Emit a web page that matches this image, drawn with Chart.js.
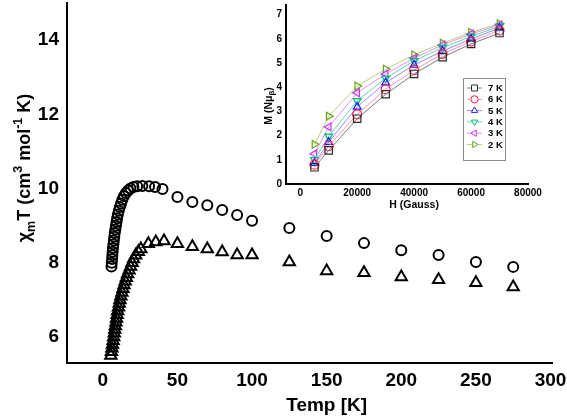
<!DOCTYPE html>
<html><head><meta charset="utf-8">
<script src="https://cdn.jsdelivr.net/npm/chart.js@4.4.1/dist/chart.umd.min.js"></script>
<style>
html,body{margin:0;padding:0;background:#fff;}
#wrap{position:relative;width:567px;height:417px;overflow:hidden;}
#main{position:absolute;left:0;top:-20px;}
#inset{position:absolute;left:258px;top:-20px;}
</style></head><body>
<div id="wrap"><canvas id="main" width="600" height="437" style="width:600px;height:437px"></canvas><canvas id="inset" width="300" height="235" style="width:300px;height:235px"></canvas></div>
<script>
// ---------- main chart data ----------
const circleT = [5.8,6.0,6.2,6.4,6.6,6.8,7.1,7.4,7.7,8.0,8.4,8.8,9.2,9.6,10.1,10.7,11.4,12.2,13.1,14.2,15.5,17.0,18.5,20.5,23,26.5,31,35,40,50,60,70,80,90,100,125,150,175,200,225,250,275];
const circleChiT = [7.90,8.00,8.10,8.20,8.30,8.40,8.50,8.60,8.70,8.80,8.90,9.00,9.10,9.20,9.30,9.40,9.50,9.60,9.70,9.80,9.88,9.95,10.00,10.04,10.06,10.07,10.06,10.04,9.99,9.77,9.64,9.55,9.42,9.29,9.13,8.94,8.72,8.53,8.34,8.21,8.02,7.89];
const triT = [5.4,5.75,6.1,6.5,6.9,7.3,7.7,8.0,8.4,8.8,9.2,9.6,10.0,10.5,11.0,11.5,12.1,12.8,13.5,14.2,15.0,15.8,16.6,17.6,18.6,19.6,20.6,22,23.8,25.5,30.5,35.5,41,50,60,70,80,90,100,125,150,175,200,225,250,275];
const triChiT = [5.5,5.6,5.7,5.8,5.9,6.0,6.1,6.2,6.3,6.4,6.5,6.6,6.7,6.8,6.9,7.0,7.1,7.2,7.3,7.4,7.5,7.6,7.7,7.8,7.9,8.0,8.1,8.2,8.3,8.37,8.51,8.56,8.59,8.51,8.43,8.37,8.29,8.21,8.21,8.02,7.78,7.73,7.62,7.54,7.46,7.35];
const xTicks = [0,50,100,150,200,250,300];
const yTicks = [6,8,10,12,14];
const xTitle = 'Temp [K]';
const yTitleParts = [['χ',''],['m','sub'],['T (cm',''],['3','sup'],[' mol',''],['-1','sup'],[' K)','']];

// ---------- inset data ----------
const fieldH = [5000,10000,20000,30000,40000,50000,60000,70000];
const seriesLabels = ['7 K','6 K','5 K','4 K','3 K','2 K'];
const m7K = [0.69,1.39,2.70,3.71,4.55,5.24,5.79,6.24];
const m6K = [0.80,1.57,2.88,3.92,4.71,5.38,5.89,6.35];
const m5K = [0.86,1.73,3.19,4.19,4.92,5.50,5.99,6.45];
const m4K = [1.00,1.97,3.44,4.37,5.09,5.64,6.10,6.52];
const m3K = [1.25,2.36,3.77,4.55,5.20,5.75,6.20,6.58];
const m2K = [1.64,2.80,4.05,4.75,5.34,5.82,6.27,6.63];
const hTicks = [0,20000,40000,60000,80000];
const mTicks = [0,1,2,3,4,5,6,7];
const hTitle = 'H (Gauss)';
const mTitleParts = [['M (Nμ',''],['β','sub'],[')','']];

const FAM = '"Liberation Sans", Arial, Helvetica, sans-serif';
const markerColors = ['#2a2a2a','#ff1a4a','#1a1aff','#00b87a','#cc33ee','#66a31a'];
const lineColors = ['#7a7a7a','#ff8fb0','#8c8cff','#5fd6a8','#e58cf5','#b3d47a'];
const styles = ['rect','circle','triangle','triangle','triangle','triangle'];
const rots = [0,0,0,180,270,90];

function drawRich(ctx, parts, size, small, cx, cy) {
  let w = 0;
  parts.forEach(p => { ctx.font = 'bold ' + (p[1] ? small : size) + 'px ' + FAM; w += ctx.measureText(p[0]).width; });
  let x = cx - w / 2;
  ctx.textAlign = 'left'; ctx.textBaseline = 'alphabetic';
  parts.forEach(p => {
    const sz = p[1] ? small : size;
    ctx.font = 'bold ' + sz + 'px ' + FAM;
    let dy = 0;
    if (p[1] === 'sup') dy = -size * 0.42;
    if (p[1] === 'sub') dy = size * 0.25;
    ctx.fillText(p[0], x, cy + dy);
    x += ctx.measureText(p[0]).width;
  });
}

const mainTitles = {
  id: 'mainTitles',
  afterDraw(chart) {
    const ctx = chart.ctx, xs = chart.scales.x, ca = chart.chartArea;
    ctx.save();
    ctx.fillStyle = '#000';
    ctx.font = 'bold 19px ' + FAM;
    ctx.textAlign = 'center'; ctx.textBaseline = 'alphabetic';
    const cx = (xs.getPixelForValue(xTicks[0]) + xs.getPixelForValue(xTicks[xTicks.length - 1])) / 2;
    ctx.fillText(xTitle, cx, ca.bottom + 48);
    ctx.translate(30, ca.top + 165); ctx.rotate(-Math.PI / 2);
    drawRich(ctx, yTitleParts, 18, 12.5, 0, 0);
    ctx.restore();
  }
};

function fixTicks(arr) { return s => { s.ticks = arr.map(v => ({ value: v })); }; }

new Chart(document.getElementById('main'), {
  type: 'scatter',
  data: { datasets: [
    { data: circleT.map((t, i) => ({ x: t, y: circleChiT[i] })), pointStyle: 'circle', pointRadius: 5, pointBorderWidth: 2, pointBorderColor: '#000', pointBackgroundColor: 'rgba(0,0,0,0)', showLine: false },
    { data: triT.map((t, i) => ({ x: t, y: triChiT[i] })), pointStyle: 'triangle', pointRadius: 6.5, pointBorderWidth: 2, pointBorderColor: '#000', pointBackgroundColor: 'rgba(0,0,0,0)', showLine: false }
  ] },
  options: {
    responsive: false, animation: false, events: [],
    layout: { padding: { top: 23, right: 48, left: 0, bottom: 0 } },
    plugins: { legend: { display: false }, tooltip: { enabled: false } },
    scales: {
      x: { type: 'linear', min: -24, max: 301, afterBuildTicks: fixTicks(xTicks), afterFit: s => { s.height = 54; },
        grid: { display: false, drawTicks: false }, border: { display: true, color: '#000', width: 2 },
        ticks: { color: '#000', padding: 6, maxRotation: 0, autoSkip: false, font: { family: FAM, size: 19, weight: 'bold' } } },
      y: { type: 'linear', min: 5.3, max: 15, afterBuildTicks: fixTicks(yTicks), afterFit: s => { s.width = 67; },
        grid: { display: false, drawTicks: false }, border: { display: true, color: '#000', width: 2 },
        ticks: { color: '#000', padding: 8, autoSkip: false, font: { family: FAM, size: 19, weight: 'bold' } } }
    }
  },
  plugins: [mainTitles]
});

function drawMarker(ctx, style, rot, r, x, y) {
  if (Chart.helpers && Chart.helpers.drawPoint) {
    Chart.helpers.drawPoint(ctx, { pointStyle: style, rotation: rot, radius: r, borderWidth: 1 }, x, y);
  }
}

const insetExtras = {
  id: 'insetExtras',
  afterDraw(chart) {
    const ctx = chart.ctx, ca = chart.chartArea, xs = chart.scales.x;
    ctx.save();
    ctx.fillStyle = '#000';
    ctx.font = 'bold 10.5px ' + FAM;
    ctx.textAlign = 'center'; ctx.textBaseline = 'alphabetic';
    const cx = (xs.getPixelForValue(hTicks[0]) + xs.getPixelForValue(hTicks[hTicks.length - 1])) / 2;
    ctx.fillText(hTitle, cx, ca.bottom + 24);
    ctx.save();
    ctx.translate(13.5, ca.top + 101); ctx.rotate(-Math.PI / 2);
    drawRich(ctx, mTitleParts, 10.5, 8, 0, 0);
    ctx.restore();
    // legend box
    const bx = ca.right - 65, by = ca.top + 73, bw = 42, bh = 82;
    ctx.fillStyle = '#fff'; ctx.fillRect(bx, by, bw, bh);
    ctx.strokeStyle = '#8a8a8a'; ctx.lineWidth = 1;
    ctx.strokeRect(bx + 0.5, by + 0.5, bw, bh);
    seriesLabels.forEach((lab, i) => {
      const yy = by + 10 + i * 11.3;
      ctx.strokeStyle = lineColors[i]; ctx.lineWidth = 1;
      ctx.beginPath(); ctx.moveTo(bx + 4, yy); ctx.lineTo(bx + 19, yy); ctx.stroke();
      ctx.strokeStyle = markerColors[i]; ctx.fillStyle = '#fff';
      drawMarker(ctx, styles[i], rots[i], styles[i] === 'rect' ? 4.2 : 3.6, bx + 11.5, yy);
      ctx.fillStyle = '#000';
      ctx.font = 'bold 9.5px ' + FAM; ctx.textAlign = 'left'; ctx.textBaseline = 'middle';
      ctx.fillText(lab, bx + 25, yy + 0.5);
    });
    ctx.restore();
  }
};

const mSeries = [m7K, m6K, m5K, m4K, m3K, m2K];
new Chart(document.getElementById('inset'), {
  type: 'line',
  data: { datasets: mSeries.map((arr, i) => ({
    label: seriesLabels[i],
    data: fieldH.map((h, j) => ({ x: h, y: arr[j] })),
    borderColor: lineColors[i], borderWidth: 1, tension: 0, fill: false,
    pointStyle: styles[i], pointRotation: rots[i], pointRadius: styles[i] === 'rect' ? 5.2 : 4.5,
    pointBorderColor: markerColors[i], pointBorderWidth: 1.2, pointBackgroundColor: 'rgba(255,255,255,0)'
  })) },
  options: {
    responsive: false, animation: false, events: [],
    layout: { padding: { top: 25, right: 30, left: 0, bottom: 0 } },
    plugins: { legend: { display: false }, tooltip: { enabled: false } },
    scales: {
      x: { type: 'linear', min: -5000, max: 80000, afterBuildTicks: fixTicks(hTicks), afterFit: s => { s.height = 31; },
        grid: { display: false, drawTicks: false }, border: { display: true, color: '#000', width: 2 },
        ticks: { color: '#000', padding: 3, maxRotation: 0, autoSkip: false, callback: v => String(v), font: { family: FAM, size: 10, weight: 'bold' } } },
      y: { type: 'linear', min: 0, max: 7.4, afterBuildTicks: fixTicks(mTicks), afterFit: s => { s.width = 28; },
        grid: { display: false, drawTicks: false }, border: { display: true, color: '#000', width: 2 },
        ticks: { color: '#000', padding: 4, autoSkip: false, font: { family: FAM, size: 10, weight: 'bold' } } }
    }
  },
  plugins: [insetExtras]
});
</script>
</body></html>
